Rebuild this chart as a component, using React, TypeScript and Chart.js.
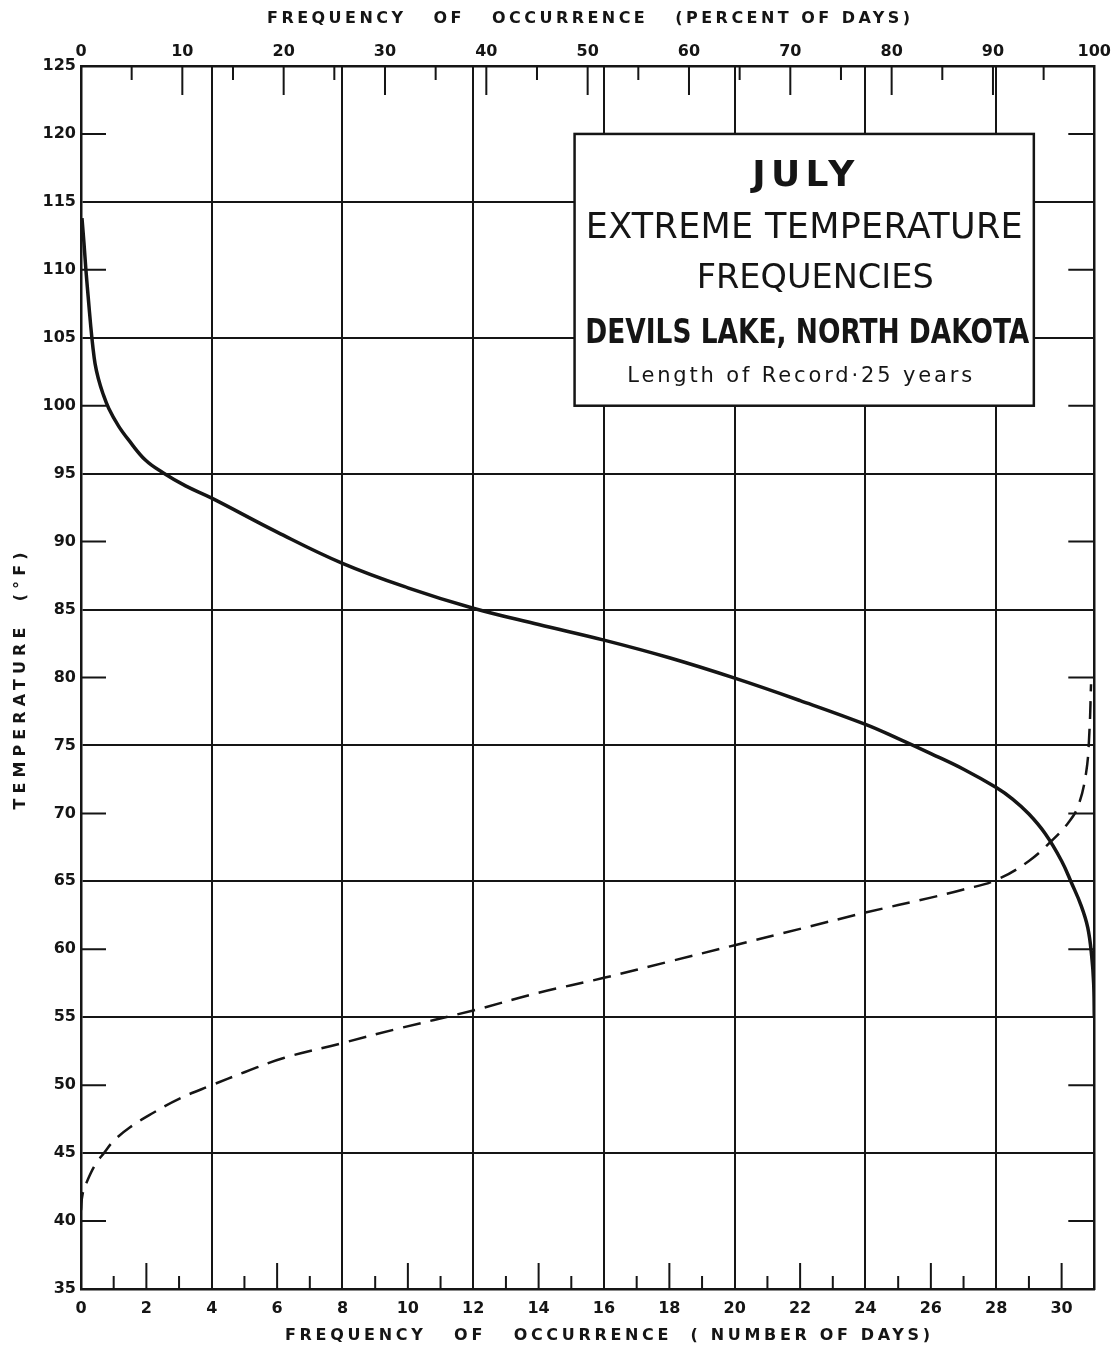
import React, { useEffect, useRef } from "react";
import { Chart, registerables } from "chart.js";

Chart.register(...registerables);

// ---------------- data ----------------
// Solid curve: number of days with maximum temperature >= T
const maxTempDays = [0.03, 0.09, 0.15, 0.22, 0.3, 0.36, 0.43, 0.53, 0.67, 0.85, 1.15, 1.45, 1.97, 2.52, 3.2, 4, 6, 8, 10, 12, 14, 16, 18, 20, 22, 24, 25, 26, 27, 28, 28.5, 29, 29.5, 30, 30.3, 30.6, 30.8, 30.92, 30.98, 31];
const maxTempDegF = [113.8, 112, 110, 108, 105.8, 104.4, 103.1, 102.0, 100.9, 99.8, 98.5, 97.5, 96.0, 95.05, 94.1, 93.2, 90.7, 88.4, 86.6, 85.1, 83.9, 82.75, 81.45, 79.95, 78.3, 76.55, 75.5, 74.4, 73.25, 71.9, 71.05, 69.95, 68.5, 66.5, 64.9, 63.2, 61.6, 59.5, 57.5, 55];

// Dashed curve: number of days with minimum temperature <= T
const minTempDays = [0, 0.05, 0.2, 0.45, 0.7, 1.0, 1.5, 2.2, 3, 4, 5, 6.2, 8, 9.6, 12, 14, 16, 18, 20, 22, 24, 26, 27, 28, 29, 29.7, 30.2, 30.5, 30.75, 30.85, 30.9];
const minTempDegF = [40.8, 42, 43, 44.2, 45, 45.9, 46.9, 47.95, 49, 50, 50.95, 52, 53.1, 54.1, 55.5, 56.8, 57.9, 59.1, 60.3, 61.5, 62.7, 63.8, 64.4, 65.1, 66.5, 68, 69.3, 70.5, 73, 76, 79.5];

// axes
const DAYS_MIN = 0;
const DAYS_MAX = 31;
const PCT_MIN = 0;
const PCT_MAX = 100;
const TEMP_MIN = 35;
const TEMP_MAX = 125;

const dayLabelValues = [0, 2, 4, 6, 8, 10, 12, 14, 16, 18, 20, 22, 24, 26, 28, 30];
const dayGridValues = [4, 8, 12, 16, 20, 24, 28];
const dayTickMarks = [1, 2, 3, 5, 6, 7, 9, 10, 11, 13, 14, 15, 17, 18, 19, 21, 22, 23, 25, 26, 27, 29, 30];
const pctLabelValues = [0, 10, 20, 30, 40, 50, 60, 70, 80, 90, 100];
const pctTickMarks = [5, 10, 15, 20, 25, 30, 35, 40, 45, 50, 55, 60, 65, 70, 75, 80, 85, 90, 95];
const tempLabelValues = [35, 40, 45, 50, 55, 60, 65, 70, 75, 80, 85, 90, 95, 100, 105, 110, 115, 120, 125];
const tempGridValues = [45, 55, 65, 75, 85, 95, 105, 115];
const tempTickMarks = [40, 50, 60, 70, 80, 90, 100, 110, 120];

// texts
const topAxisTitle = "FREQUENCY   OF   OCCURRENCE   (PERCENT OF DAYS)";
const bottomAxisTitle = "FREQUENCY   OF   OCCURRENCE  ( NUMBER OF DAYS)";
const leftAxisTitle = "TEMPERATURE  (°F)";
const boxLines = [
  "JULY",
  "EXTREME TEMPERATURE",
  "FREQUENCIES",
  "DEVILS LAKE, NORTH DAKOTA",
  "Length of Record·25 years",
];
// title box placement in data units
const boxDays = [15.1, 29.15];
const boxTemps = [100, 120];

// ---------------- styles ----------------
const INK = "#151515";
const FONT = '"DejaVu Sans", "Noto Sans", sans-serif';
const boxLineStyles = [
  { dx: -1, dy: 42.5, width: 102, font: `bold 36px ${FONT}` },
  { dx: 0, dy: 94.5, width: 437, font: `35px ${FONT}` },
  { dx: 11, dy: 145, width: 237, font: `34px ${FONT}` },
  { dx: 3, dy: 200.5, width: 444, font: `bold 33px "DejaVu Sans Condensed", ${FONT}` },
  { dx: -4.5, dy: 243, width: 345, font: `21px ${FONT}` },
];

function spacedText(
  ctx: CanvasRenderingContext2D,
  text: string,
  cx: number,
  cy: number,
  width: number,
  font: string
) {
  const c = ctx as any;
  ctx.save();
  ctx.font = font;
  ctx.fillStyle = INK;
  ctx.textBaseline = "middle";
  ctx.textAlign = "left";
  const hasLS = "letterSpacing" in c;
  if (hasLS) c.letterSpacing = "0px";
  const w0 = ctx.measureText(text).width;
  const chars = Array.from(text);
  const n = chars.length;
  const gap = n > 1 ? (width - w0) / (n - 1) : 0;
  const left = cx - width / 2;
  if (gap < 0) {
    ctx.translate(left, cy);
    ctx.scale(width / w0, 1);
    ctx.fillText(text, 0, 0);
  } else if (hasLS) {
    c.letterSpacing = gap + "px";
    ctx.fillText(text, left, cy);
    c.letterSpacing = "0px";
  } else {
    let xx = left;
    for (const ch of chars) {
      ctx.fillText(ch, xx, cy);
      xx += ctx.measureText(ch).width + gap;
    }
  }
  ctx.restore();
}

const decorPlugin = {
  id: "decor",
  beforeDraw(chart: any) {
    const { ctx, width, height } = chart;
    ctx.save();
    ctx.fillStyle = "#ffffff";
    ctx.fillRect(0, 0, width, height);
    ctx.restore();
  },
  afterDraw(chart: any) {
    const ctx: CanvasRenderingContext2D = chart.ctx;
    const a = chart.chartArea;
    const xs = chart.scales.x;
    const xp = chart.scales.x2;
    const ys = chart.scales.y;

    // inward tick marks
    ctx.save();
    ctx.strokeStyle = INK;
    ctx.lineWidth = 2;
    ctx.beginPath();
    for (const d of dayTickMarks) {
      const px = xs.getPixelForValue(d);
      const len = d % 2 === 0 ? 26 : 13;
      ctx.moveTo(px, a.bottom);
      ctx.lineTo(px, a.bottom - len);
    }
    for (const p of pctTickMarks) {
      const px = xp.getPixelForValue(p);
      const len = p % 10 === 0 ? 29 : 14;
      ctx.moveTo(px, a.top);
      ctx.lineTo(px, a.top + len);
    }
    for (const t of tempTickMarks) {
      const py = ys.getPixelForValue(t);
      ctx.moveTo(a.left, py);
      ctx.lineTo(a.left + 25, py);
      ctx.moveTo(a.right, py);
      ctx.lineTo(a.right - 26, py);
    }
    ctx.stroke();
    ctx.restore();

    // title box
    const L = xs.getPixelForValue(boxDays[0]);
    const R = xs.getPixelForValue(boxDays[1]);
    const T = ys.getPixelForValue(boxTemps[1]);
    const B = ys.getPixelForValue(boxTemps[0]);
    ctx.save();
    ctx.fillStyle = "#ffffff";
    ctx.fillRect(L, T, R - L, B - T);
    ctx.strokeStyle = INK;
    ctx.lineWidth = 2.5;
    ctx.strokeRect(L, T, R - L, B - T);
    ctx.restore();
    const bcx = (L + R) / 2;
    boxLines.forEach((line, i) => {
      const s = boxLineStyles[i];
      spacedText(ctx, line, bcx + s.dx, T + s.dy, s.width, s.font);
    });

    // axis titles
    const titleFont = `bold 16px ${FONT}`;
    spacedText(ctx, topAxisTitle, 588.5, 18.5, 643, titleFont);
    spacedText(ctx, bottomAxisTitle, 607.5, 1336, 645, titleFont);
    ctx.save();
    ctx.translate(21, 681);
    ctx.rotate(-Math.PI / 2);
    spacedText(ctx, leftAxisTitle, 0, 0, 257, titleFont);
    ctx.restore();
  },
};

export default function App() {
  const ref = useRef<HTMLCanvasElement | null>(null);

  useEffect(() => {
    if (!ref.current) return;
    const tickFont = { family: FONT, size: 16, weight: "bold" as const };
    const transparent = "rgba(0,0,0,0)";
    const border = { display: true, color: INK, width: 2.5 };

    const chart = new Chart(ref.current, {
      type: "scatter",
      data: {
        datasets: [
          {
            label: "Maximum temperature",
            data: maxTempDays.map((d, i) => ({ x: d, y: maxTempDegF[i] })),
            showLine: true,
            borderColor: INK,
            backgroundColor: INK,
            borderWidth: 3.5,
            pointRadius: 0,
            tension: 0.4,
            xAxisID: "x",
            yAxisID: "y",
          },
          {
            label: "Minimum temperature",
            data: minTempDays.map((d, i) => ({ x: d, y: minTempDegF[i] })),
            showLine: true,
            borderColor: INK,
            backgroundColor: INK,
            borderWidth: 2.5,
            borderDash: [18, 10],
            pointRadius: 0,
            tension: 0.4,
            xAxisID: "x",
            yAxisID: "y",
          },
        ],
      },
      options: {
        responsive: false,
        animation: false,
        events: [],
        layout: { padding: 0 },
        plugins: {
          legend: { display: false },
          tooltip: { enabled: false },
          title: { display: false },
        },
        scales: {
          x: {
            type: "linear",
            position: "bottom",
            min: DAYS_MIN,
            max: DAYS_MAX,
            ticks: {
              stepSize: 1,
              autoSkip: false,
              maxRotation: 0,
              padding: 10,
              color: INK,
              font: tickFont,
              callback: (v: any) => (dayLabelValues.includes(Number(v)) ? String(v) : ""),
            },
            grid: {
              drawTicks: false,
              lineWidth: 2,
              color: (c: any) => (c.tick && dayGridValues.includes(c.tick.value) ? INK : transparent),
            },
            border,
            afterFit: (s: any) => {
              s.height = 61;
            },
          },
          x2: {
            type: "linear",
            axis: "x",
            position: "top",
            min: PCT_MIN,
            max: PCT_MAX,
            ticks: {
              stepSize: 5,
              autoSkip: false,
              maxRotation: 0,
              padding: 5,
              color: INK,
              font: tickFont,
              callback: (v: any) => (pctLabelValues.includes(Number(v)) ? String(v) : ""),
            },
            grid: { drawOnChartArea: false, drawTicks: false },
            border,
            afterFit: (s: any) => {
              s.height = 66;
            },
          },
          y: {
            type: "linear",
            position: "left",
            min: TEMP_MIN,
            max: TEMP_MAX,
            ticks: {
              stepSize: 5,
              autoSkip: false,
              padding: 5,
              color: INK,
              font: tickFont,
              callback: (v: any) => (tempLabelValues.includes(Number(v)) ? String(v) : ""),
            },
            grid: {
              drawTicks: false,
              lineWidth: 2,
              color: (c: any) => (c.tick && tempGridValues.includes(c.tick.value) ? INK : transparent),
            },
            border,
            afterFit: (s: any) => {
              s.width = 81;
            },
          },
          y2: {
            type: "linear",
            axis: "y",
            position: "right",
            min: TEMP_MIN,
            max: TEMP_MAX,
            ticks: { display: false, stepSize: 5 },
            grid: { drawOnChartArea: false, drawTicks: false },
            border,
            afterFit: (s: any) => {
              s.width = 17;
            },
          },
        },
      } as any,
      plugins: [decorPlugin as any],
    });

    return () => {
      chart.destroy();
    };
  }, []);

  return (
    <div
      style={{
        position: "absolute",
        left: 0,
        top: 0,
        width: 1116,
        height: 1350,
        background: "#ffffff",
      }}
    >
      <canvas ref={ref} width={1116} height={1350} style={{ display: "block", width: 1116, height: 1350 }} />
    </div>
  );
}
